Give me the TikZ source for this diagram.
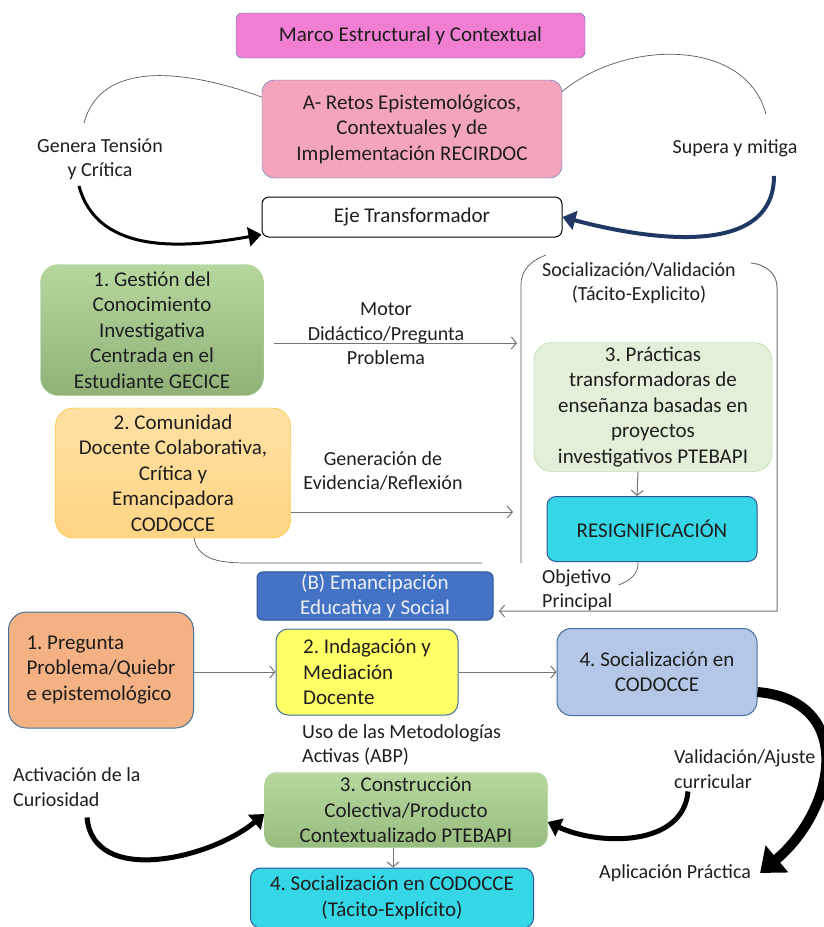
\documentclass[tikz,border=0pt]{standalone}
\usepackage{fontspec}
\setmainfont{Carlito}
\usepackage{tikz}
\usetikzlibrary{positioning, arrows.meta}
\frenchspacing
\definecolor{rosa}{HTML}{F07FD4}
\definecolor{rosaclaro}{HTML}{F4A5BB}
\definecolor{azulborde}{HTML}{41719C}
\definecolor{azulosc}{HTML}{2F5597}
\definecolor{azulmedio}{HTML}{4472C4}
\definecolor{azulclaro}{HTML}{B4C7E7}
\definecolor{verde}{HTML}{A9D18E}
\definecolor{verdeclaro}{HTML}{E2F0D9}
\definecolor{naranja}{HTML}{FFD98C}
\definecolor{salmon}{HTML}{F4B183}
\definecolor{amarillo}{HTML}{FFFF66}
\definecolor{cian}{HTML}{35D6E6}
\definecolor{marino}{HTML}{1F3864}
\definecolor{texto}{HTML}{1E1E1E}
\tikzset{
    caja/.style={draw, rounded corners=12pt, align=center, inner sep=2pt,
        text=texto, font=\fontsize{21}{25.5}\selectfont},
    etiqueta/.style={align=center, inner sep=1pt, text=texto,
        font=\fontsize{20}{24.5}\selectfont},
    fina/.style={draw=black!65, line width=0.7pt},
    flecha/.style={draw=black!55, line width=1pt,
        -{Straight Barb[length=5pt,width=12pt]}},
    gruesa/.style={draw=black, line width=5pt,
        -{Triangle[length=13pt,width=19pt]}},
    enorme/.style={draw=black, line width=10pt,
        -{Triangle[length=22pt,width=34pt]}}
}

\begin{document}
\begin{tikzpicture}[x=1pt,y=-1pt]
	\useasboundingbox (0,0) rectangle (823,927);
	\node[caja,fill=rosa,draw=azulborde,rounded corners=6pt,minimum width=349pt,minimum height=45pt] at (410.5,35.5) (marco) {Marco Estructural y Contextual};
	\node[caja,fill=rosaclaro,draw=azulmedio,minimum width=300pt,minimum height=98pt] at (412,129) (retos) {A- Retos Epistemológicos,\\Contextuales y de\\Implementación RECIRDOC};
	\node[caja,fill=white,draw=black,line width=1pt,rounded corners=7pt,minimum width=300pt,minimum height=40pt] at (412,217) (eje) {Eje Transformador};
	\node[etiqueta] at (100,159) (genera) {Genera Tensión\\y Crítica};
	\node[etiqueta] at (735,148) (supera) {Supera y mitiga};

	\node[caja,top color=verde!85!white,bottom color=verde!85!black,draw=verde,rounded corners=18pt,minimum width=223pt,minimum height=131pt] at (152,330) (gecice) {1. Gestión del\\Conocimiento\\Investigativa\\Centrada en el\\Estudiante GECICE};
	\node[caja,top color=naranja!80!white,bottom color=naranja!95!orange,draw=orange!60!yellow,rounded corners=18pt,minimum width=235pt,minimum height=130pt] at (173,473) (codocce) {2. Comunidad\\Docente Colaborativa,\\Crítica y\\Emancipadora\\CODOCCE};
	\node[etiqueta] at (386,334) (motor) {Motor\\Didáctico/Pregunta\\Problema};
	\node[etiqueta] at (383,471) (generacion) {Generación de\\Evidencia/Reflexión};
	\node[etiqueta] at (639,283) (socval) {Socialización/Validación\\(Tácito-Explicito)};
	\node[caja,fill=verdeclaro,draw=verde,rounded corners=18pt,minimum width=238pt,minimum height=129pt] at (653,407) (ptebapi) {3. Prácticas\\transformadoras de\\enseñanza basadas en\\proyectos\\investigativos PTEBAPI};
	\node[caja,fill=cian,draw=azulosc,line width=1pt,rounded corners=9pt,minimum width=210pt,minimum height=65pt] at (652,529) (resig) {RESIGNIFICACIÓN};
	\node[etiqueta,align=left,anchor=west] at (541,590) (objetivo) {Objetivo\\Principal};
	\node[caja,fill=azulmedio,draw=azulosc,line width=1pt,rounded corners=6pt,text=white!90!azulmedio,minimum width=236pt,minimum height=47pt] at (375,596) (emancip) {(B) Emancipación\\Educativa y Social};

	\node[caja,fill=salmon,draw=azulborde,line width=1pt,align=left,rounded corners=18pt,minimum width=185pt,minimum height=116pt] at (101,670) (preg) {1. Pregunta\\Problema/Quiebr\\e epistemológico};
	\node[caja,fill=amarillo,draw=azulborde,line width=1pt,align=left,rounded corners=12pt,minimum width=182pt,minimum height=86pt] at (367,672) (indag) {2. Indagación y\\Mediación\\Docente\hspace{22pt}};
	\node[caja,fill=azulclaro,draw=azulborde,line width=1pt,rounded corners=14pt,minimum width=200pt,minimum height=87pt] at (657,672) (social) {4. Socialización en\\CODOCCE};
	\node[etiqueta,align=left,anchor=west] at (301,745) (uso) {Uso de las Metodologías\\Activas (ABP)};
	\node[etiqueta,align=left,anchor=west] at (12,787) (activ) {Activación de la\\Curiosidad};
	\node[etiqueta,align=left,anchor=west] at (673,769) (valid) {Validación/Ajuste\\curricular};
	\node[etiqueta,anchor=west] at (598,873) (aplic) {Aplicación Práctica};
	\node[caja,top color=verde!85!white,bottom color=verde!90!black,draw=verde,rounded corners=12pt,minimum width=283pt,minimum height=75pt] at (406,810) (constr) {3. Construcción\\Colectiva/Producto\\Contextualizado PTEBAPI};
	\node[caja,fill=cian,draw=azulosc,line width=1pt,rounded corners=10pt,minimum width=283pt,minimum height=60pt] at (392,898) (socfinal) {4. Socialización en CODOCCE\\(Tácito-Explícito)};

	\coordinate (motorfin) at (517,343);
	\coordinate (reflexfin) at (513,512);
	\coordinate (lineafin) at (482,563);
	\coordinate (corte) at (777,611);
	\coordinate (objfin) at (499,611);

	\draw
	(retos.168) edge[fina,out=160,in=75] ([xshift=-16pt,yshift=14pt]genera.north)
	([xshift=-21pt,yshift=-5pt]genera.south) edge[gruesa,line width=3pt,out=-75,in=190] ([yshift=3pt]eje.south west)
	(retos.14) edge[fina,out=40,in=105] ([xshift=31pt,yshift=24pt]supera.north)
	([xshift=39pt,yshift=-18pt]supera.south) edge[gruesa,draw=marino,line width=4pt,out=-90,in=-15] (eje.east)
	([xshift=10pt]gecice.east |- motorfin) edge[flecha] (motorfin)
	(codocce.east |- reflexfin) edge[flecha] (reflexfin)
	([xshift=-15pt]ptebapi.south) edge[flecha] ([xshift=-15pt]resig.north)
	([xshift=-14pt]resig.south) edge[fina,out=-85,in=20] ([xshift=5pt,yshift=5pt]objetivo.east)
	(preg.east |- indag.west) edge[flecha] (indag.west)
	(indag.east) edge[flecha] (social.west)
	([xshift=-13pt]constr.south) edge[flecha] ([xshift=1pt]socfinal.north)
	([xshift=75pt,yshift=-10pt]activ.south west) edge[gruesa,out=-85,in=220] ([yshift=-4pt]constr.west)
	([xshift=15pt,yshift=-2pt]valid.south west) edge[gruesa,out=-95,in=-25] ([yshift=-12pt]constr.east)
	([yshift=-20pt]social.east) edge[enorme,out=-5,in=40,looseness=1.4] ([xshift=8pt]aplic.east);

	\draw[fina] (546,255) to[out=200,in=90] (521,285) -- (521,563);
	\draw[fina] ([xshift=21pt]codocce.south) to[out=-80,in=180] ([xshift=-225pt]lineafin) -- (lineafin);
	\draw[flecha] (751,263) to[out=-5,in=90] (777,287) -- (corte) -- (objfin);
\end{tikzpicture}
\end{document}
